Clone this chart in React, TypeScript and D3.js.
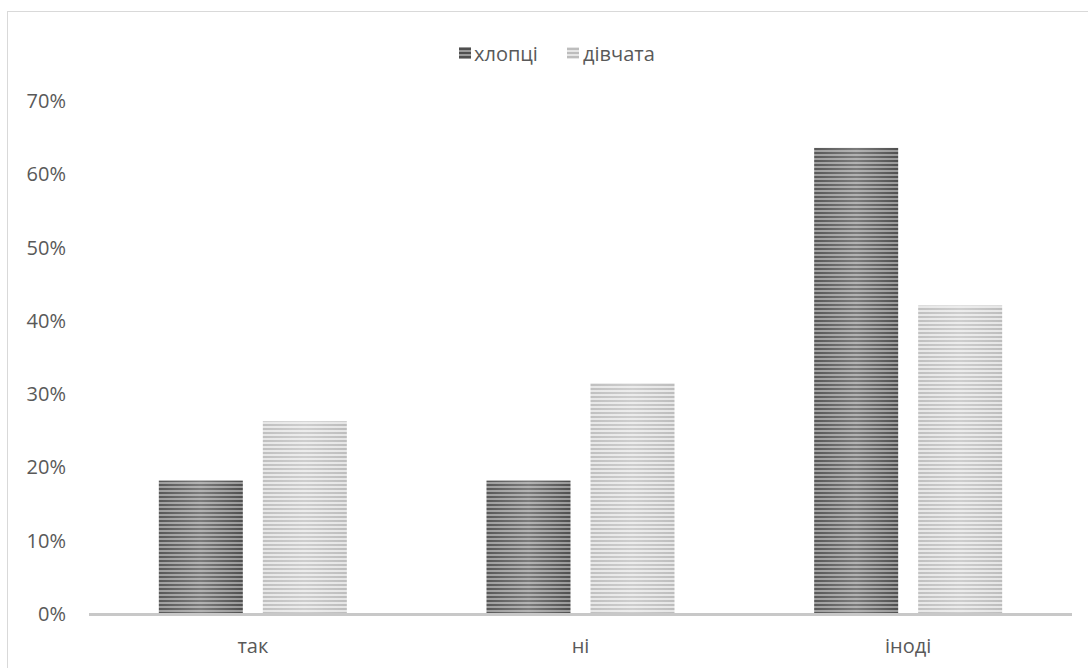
import React from "react";
import * as d3 from "d3";

const categories = ["так", "ні", "іноді"];
const seriesNames = ["хлопці", "дівчата"];
const boys = [0.182, 0.182, 0.636];
const girls = [0.263, 0.315, 0.421];
const yTicks = [0, 0.1, 0.2, 0.3, 0.4, 0.5, 0.6, 0.7];

const W = 1088;
const H = 668;
const plot = { left: 89, right: 1072, top: 101, bottom: 614 };

export default function App() {
  const x = d3.scaleBand<string>().domain(categories).range([plot.left, plot.right]).paddingInner(0).paddingOuter(0);
  const y = d3.scaleLinear().domain([0, 0.7]).range([plot.bottom, plot.top]);
  const barW = 84;
  const gap = 20;
  const series = [boys, girls];
  const fills = ["url(#patDark)", "url(#patLight)"];
  const fmt = d3.format(".0%");
  return (
    <svg width={W} height={H} style={{ position: "absolute", left: 0, top: 0, background: "#fff" }}
      fontFamily="'Open Sans', 'Liberation Sans', sans-serif">
      <defs>
        <pattern id="patDark" patternUnits="userSpaceOnUse" width="8" height="4">
          <rect width="8" height="4" fill="#9a9a9a" />
          <rect width="8" height="2" fill="#4f4f4f" />
        </pattern>
        <pattern id="patLight" patternUnits="userSpaceOnUse" width="8" height="4">
          <rect width="8" height="4" fill="#e6e6e6" />
          <rect width="8" height="2" fill="#bdbdbd" />
        </pattern>
        <linearGradient id="shine" x1="0" x2="1" y1="0" y2="0">
          <stop offset="0" stopColor="#fff" stopOpacity="0.05" />
          <stop offset="0.5" stopColor="#fff" stopOpacity="0.25" />
          <stop offset="1" stopColor="#fff" stopOpacity="0.0" />
        </linearGradient>
      </defs>
      <rect x={7.5} y={11.5} width={W} height={H} fill="none" stroke="#d9d9d9" strokeWidth={1} />
      {/* legend */}
      <g fontSize={20} fill="#595959">
        <rect x={459} y={47} width={12} height={12} fill="url(#patDark)" />
        <text x={474} y={61}>{seriesNames[0]}</text>
        <rect x={567} y={47} width={12} height={12} fill="url(#patLight)" />
        <text x={583} y={61}>{seriesNames[1]}</text>
      </g>
      {/* y tick labels */}
      <g fontSize={20} fill="#595959" textAnchor="end">
        {yTicks.map((t) => (
          <text key={t} x={66} y={y(t) + 7}>{fmt(t)}</text>
        ))}
      </g>
      {/* bars */}
      {categories.map((c, i) => {
        const cx = (x(c) as number) + x.bandwidth() / 2;
        return series.map((s, j) => {
          const bx = j === 0 ? cx - gap / 2 - barW : cx + gap / 2;
          return (
            <g key={c + j}>
              <rect x={bx} y={y(s[i])} width={barW} height={plot.bottom - y(s[i])} fill={fills[j]} />
              <rect x={bx} y={y(s[i])} width={barW} height={plot.bottom - y(s[i])} fill="url(#shine)" />
            </g>
          );
        });
      })}
      {/* axis */}
      <line x1={plot.left} x2={plot.right} y1={plot.bottom + 0.5} y2={plot.bottom + 0.5} stroke="#c8c8c8" strokeWidth={3} />
      <g fontSize={20} fill="#595959" textAnchor="middle">
        {categories.map((c) => (
          <text key={c} x={(x(c) as number) + x.bandwidth() / 2} y={653}>{c}</text>
        ))}
      </g>
    </svg>
  );
}
